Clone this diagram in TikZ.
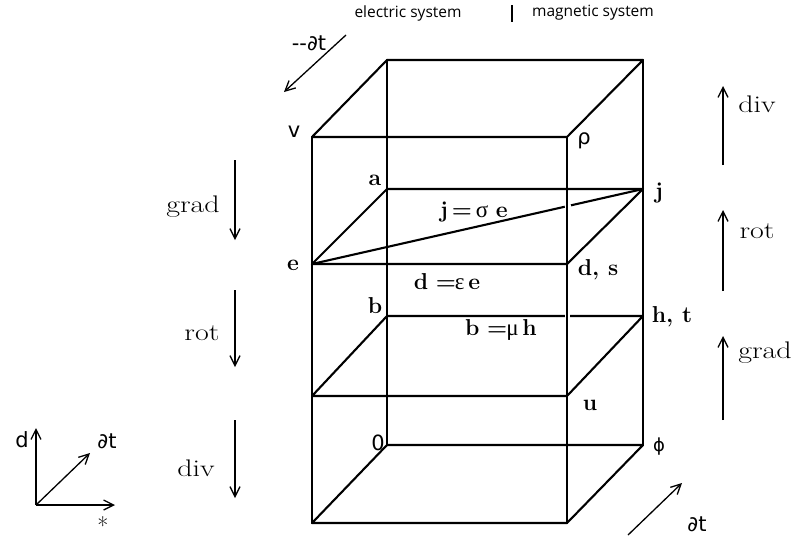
\documentclass[tikz,border=0pt]{standalone}
\usepackage{fontspec}
\newfontfamily\hdrfont{Open Sans}
\newfontfamily\grk{Liberation Serif}
\newfontfamily\dsans{DejaVu Sans}
\newcommand{\wtxt}[1]{\scalebox{1.25}[1]{#1}}
\usetikzlibrary{arrows.meta,calc}
\begin{document}
\begin{tikzpicture}[x=1pt,y=-1pt,
  edge/.style={line width=2.1pt,line cap=round,line join=round},
  oparrow/.style={line width=1.3pt,-{Straight Barb[length=10pt,width=10pt,line width=1.3pt]}},
  lbl/.style={inner sep=0pt,font=\fontsize{24}{27}\selectfont},
  blbl/.style={inner sep=0pt,font=\fontsize{23}{26}\selectfont\bfseries},
  slbl/.style={inner sep=0pt,font=\dsans\fontsize{21}{24}\selectfont},
  hdr/.style={inner sep=0pt,font=\hdrfont\fontsize{15.5}{18}\selectfont}]
\useasboundingbox (0,0) rectangle (797,539);
% cube corners: front face x 312/567, back face x 387/643
\coordinate (FTL) at (312,137); \coordinate (FTR) at (567,137);
\coordinate (BTL) at (387,60);  \coordinate (BTR) at (643,60);
\coordinate (BAL) at (387,189); \coordinate (BAR) at (643,189);
\coordinate (FEL) at (312,264); \coordinate (FER) at (567,264);
\coordinate (BBL) at (387,316); \coordinate (BBR) at (643,316);
\coordinate (FUL) at (312,396); \coordinate (FUR) at (567,396);
\coordinate (B0L) at (387,445); \coordinate (B0R) at (643,445);
\coordinate (FBL) at (312,523); \coordinate (FBR) at (567,523);
% verticals
\draw[edge] (BTL) -- (B0L);
\draw[edge] (BTR) -- (B0R);
\draw[edge] (FTL) -- (FBL);
% top
\draw[edge] (FTL) -- (BTL) -- (BTR) -- (FTR) -- cycle;
% a-level parallelogram
\draw[edge] (FEL) -- (BAL) -- (BAR) -- (FER) -- cycle;
\draw[edge] (FEL) -- (BAR);
% b-level parallelogram
\draw[edge] (FUL) -- (BBL) -- (BBR) -- (FUR) -- cycle;
% bottom
\draw[edge] (FBL) -- (B0L) -- (B0R) -- (FBR) -- cycle;
% small gaps where lines pass behind the front right edge
\draw[white,line width=4pt] ($(FEL)!0.764!(BAR)$) -- ($(FEL)!0.782!(BAR)$);
\draw[white,line width=4pt] ($(BBL)!0.697!(BBR)$) -- ($(BBL)!0.715!(BBR)$);
\draw[edge] (FTR) -- (FBR);
% cube labels
\node[slbl] (lv) at (294,132) {v};
\node[slbl] (lrho) at (584,141) {ρ};
\node[blbl] (la) at (375,180) {a};
\node[blbl] (lj) at (659,193) {j};
\node[blbl] (ljse) at (474,212) {j\,=\,{\grk\mdseries σ}\,\,e};
\node[blbl] (le) at (293,265) {e};
\node[blbl] (ldee) at (447,282) {d\,\,=\kern-1pt{\grk\mdseries ε}\,e};
\node[blbl] (lds) at (598,270) {d, s};
\node[blbl] (lb) at (375,306) {b};
\node[blbl] (lbmh) at (501,330) {b\,\,=\kern-1pt{\grk\mdseries μ}\,h};
\node[blbl] (lht) at (672,317) {h, t};
\node[blbl] (lu) at (590,405) {u};
\node[slbl] (l0) at (378,443) {0};
\node[slbl,font=\dsans\fontsize{18}{22}\selectfont] (lphi) at (659,447) {ϕ};
% header
\node[hdr] (hel) at (408,13) {electric system};
\node[hdr] (hmag) at (593,13) {magnetic system};
\coordinate (bar1) at (512,5); \coordinate (bar2) at (512,22);
\draw[line width=1.8pt] (bar1) -- (bar2);
% left arrows
\coordinate (lg1) at (235,160); \coordinate (lg2) at (235,240);
\coordinate (lr1) at (235,290); \coordinate (lr2) at (235,367);
\coordinate (ld1) at (235,420); \coordinate (ld2) at (235,498);
\draw[oparrow] (lg1) -- (lg2);
\draw[oparrow] (lr1) -- (lr2);
\draw[oparrow] (ld1) -- (ld2);
\node[lbl] (tgradl) at (193,207) {\wtxt{grad}};
\node[lbl] (trotl) at (202,333) {\wtxt{rot}};
\node[lbl] (tdivl) at (196,468) {\wtxt{div}};
% right arrows
\coordinate (rd1) at (723,165); \coordinate (rd2) at (723,86);
\coordinate (rr1) at (723,291); \coordinate (rr2) at (723,210);
\coordinate (rg1) at (723,420); \coordinate (rg2) at (723,336);
\draw[oparrow] (rd1) -- (rd2);
\draw[oparrow] (rr1) -- (rr2);
\draw[oparrow] (rg1) -- (rg2);
\node[lbl] (tdivr) at (757,104) {\wtxt{div}};
\node[lbl] (trotr) at (757,231) {\wtxt{rot}};
\node[lbl] (tgradr) at (765,353) {\wtxt{grad}};
% time arrows
\coordinate (tm1) at (346,35); \coordinate (tm2) at (284,92);
\draw[oparrow] (tm1) -- (tm2);
\node[slbl] (ltm) at (309,43) {-{}-∂t};
\coordinate (tp1) at (628,535); \coordinate (tp2) at (682,483);
\draw[oparrow] (tp1) -- (tp2);
\node[slbl] (ltp) at (697,524) {∂t};
% legend
\coordinate (o) at (36,505);
\coordinate (oy) at (36,428); \coordinate (oz) at (90,453); \coordinate (ox) at (115,505);
\draw[oparrow] (o) -- (oy);
\draw[oparrow] (o) -- (oz);
\draw[oparrow] (o) -- (ox);
\node[slbl] (lgd) at (22,440) {d};
\node[slbl] (lgt) at (107,441) {∂t};
\node[lbl] (lgs) at (103,525) {*};
\end{tikzpicture}
\end{document}
